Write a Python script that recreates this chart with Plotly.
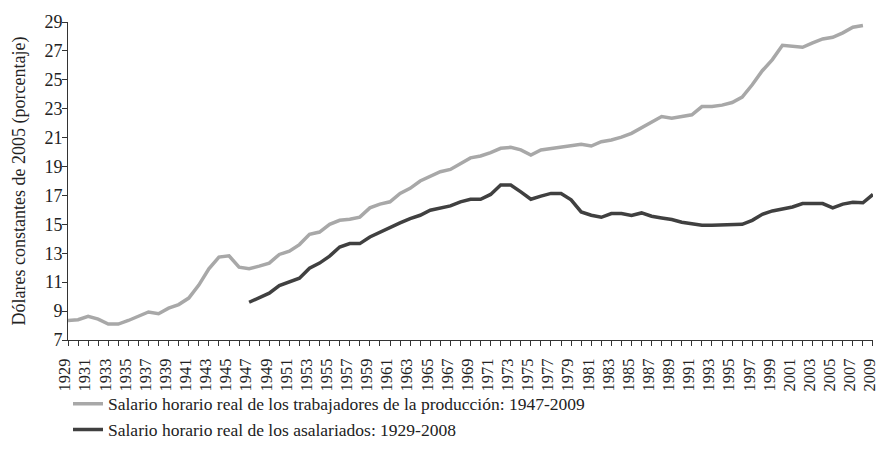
"""
Salario horario real, 1929-2009
Line chart of two real hourly wage series in constant 2005 dollars
"""

import plotly.graph_objects as go

# Light gray series (drawn 1929-2008)
produccion_start = 1929
produccion_values = [
    8.34, 8.40, 8.64, 8.44, 8.10, 8.10, 8.35, 8.63, 8.94, 8.82,
    9.20, 9.45, 9.90, 10.80, 11.93, 12.74, 12.83, 12.04, 11.93, 12.11,
    12.32, 12.92, 13.15, 13.60, 14.31, 14.47, 15.00, 15.28, 15.35, 15.50,
    16.14, 16.40, 16.56, 17.14, 17.49, 18.00, 18.34, 18.64, 18.80, 19.22,
    19.60, 19.73, 19.96, 20.26, 20.33, 20.15, 19.80, 20.15, 20.26, 20.37,
    20.45, 20.54, 20.42, 20.72, 20.84, 21.03, 21.30, 21.70, 22.11, 22.46,
    22.35, 22.44, 22.58, 23.15, 23.15, 23.25, 23.43, 23.80, 24.66, 25.63,
    26.40, 27.39, 27.32, 27.25, 27.55, 27.83, 27.94, 28.25, 28.64, 28.76,
]
produccion_years = list(range(produccion_start, produccion_start + len(produccion_values)))

# Dark series (drawn 1947-2009)
asalariados_start = 1947
asalariados_values = [
    9.61, 9.92, 10.24, 10.77, 11.05, 11.28, 11.97, 12.32, 12.80, 13.43,
    13.67, 13.67, 14.13, 14.47, 14.75, 15.10, 15.40, 15.63, 15.98, 16.10,
    16.28, 16.56, 16.74, 16.74, 17.07, 17.72, 17.72, 17.25, 16.74, 16.95,
    17.14, 17.14, 16.70, 15.86, 15.63, 15.49, 15.75, 15.75, 15.61, 15.79,
    15.56, 15.44, 15.33, 15.15, 15.06, 14.94, 14.94, 14.94, 14.94, 15.00,
    15.28, 15.70, 15.93, 16.07, 16.20, 16.44, 16.44, 16.44, 16.14, 16.40,
    16.53, 16.49, 17.07,
]
asalariados_years = list(range(asalariados_start, asalariados_start + len(asalariados_values)))

legend_labels = [
    "Salario horario real de los trabajadores de la producción: 1947-2009",
    "Salario horario real de los asalariados: 1929-2008",
]
y_title = "Dólares constantes de 2005 (porcentaje)"

# Every year gets a tick, only odd years get a label
all_years = list(range(1929, 2010))
year_labels = [str(y) if (y - 1929) % 2 == 0 else "" for y in all_years]
y_ticks = list(range(7, 30, 2))

FONT = "Liberation Serif, Times New Roman, serif"
TEXT_COLOR = "#222222"
AXIS_COLOR = "#333333"

fig = go.Figure()
fig.add_trace(go.Scatter(
    x=produccion_years, y=produccion_values, mode="lines",
    name=legend_labels[0], legendgroup="a",
    line=dict(color="#a8a8a8", width=3.5),
    cliponaxis=False,
))
fig.add_trace(go.Scatter(
    x=asalariados_years, y=asalariados_values, mode="lines",
    name=legend_labels[1], legendgroup="b",
    line=dict(color="#404040", width=3.5),
    cliponaxis=False,
))

fig.update_layout(
    width=879, height=469,
    margin=dict(l=68, r=6, t=22, b=129),
    paper_bgcolor="white", plot_bgcolor="white",
    font=dict(family=FONT, size=17, color=TEXT_COLOR),
    showlegend=True,
    legend=dict(
        x=0.0, y=-0.144, xanchor="left", yanchor="top",
        orientation="v", traceorder="grouped", tracegroupgap=0,
        bgcolor="rgba(0,0,0,0)",
        font=dict(family=FONT, size=17.5, color=TEXT_COLOR),
        itemwidth=30,
    ),
)

fig.update_xaxes(
    range=[1929, 2009.001],
    tickmode="array", tickvals=all_years, ticktext=year_labels,
    tickangle=-90, ticks="outside", ticklen=5, tickwidth=1, tickcolor=AXIS_COLOR,
    ticklabeloverflow="allow", ticklabelstandoff=6, ticklabelshift=-3,
    showline=True, linecolor=AXIS_COLOR, linewidth=1,
    showgrid=False, zeroline=False, automargin=False,
    tickfont=dict(family=FONT, size=16.5, color=TEXT_COLOR),
)
fig.update_yaxes(
    range=[7, 29],
    tickmode="array", tickvals=y_ticks,
    ticks="outside", ticklen=5, tickwidth=1, tickcolor=AXIS_COLOR,
    ticklabelstandoff=-4,
    showline=True, linecolor=AXIS_COLOR, linewidth=1,
    showgrid=False, zeroline=False, automargin=False,
    tickfont=dict(family=FONT, size=18, color=TEXT_COLOR),
    title=dict(text=y_title, standoff=14, font=dict(family=FONT, size=18, color=TEXT_COLOR)),
)

# the page body has a default 8px margin; drop it so the figure sits at 0,0
fig.write_html(
    "out.html",
    config={"displayModeBar": False},
    post_script="document.body.style.margin = '0';",
)
